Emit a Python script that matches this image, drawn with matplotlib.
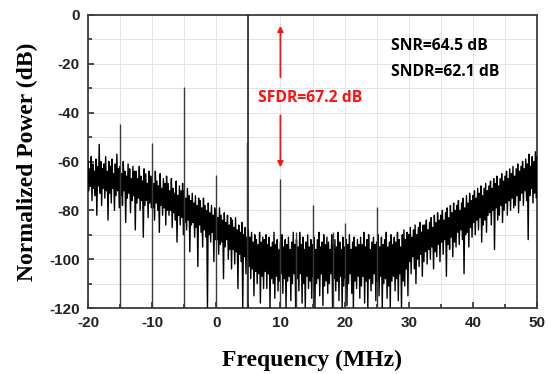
import numpy as np
import matplotlib
matplotlib.use("Agg")
import matplotlib.pyplot as plt
from matplotlib.ticker import MultipleLocator

plt.rcParams['axes.unicode_minus'] = False

# ---- data ----
# noise spectrum: local maxima every 0.25 MHz from -20 MHz, local minima 0.125 MHz later
noise_start = -20.0
noise_step = 0.25
noise_peak = [
    -60, -63, -58, -61, -64, -59, -62, -53, -60, -63,
    -61, -58, -64, -60, -62, -59, -65, -61, -57, -63,
    -62, -65, -60, -64, -66, -61, -63, -67, -62, -64,
    -64, -67, -62, -66, -68, -63, -65, -69, -64, -66,
    -66, -69, -64, -68, -70, -65, -71, -67, -69, -66,
    -69, -72, -67, -71, -73, -68, -74, -70, -72, -69,
    -72, -75, -71, -74, -76, -73, -77, -74, -78, -75,
    -76, -79, -75, -78, -80, -77, -81, -78, -82, -79,
    -80, -83, -79, -82, -84, -81, -85, -82, -86, -83,
    -84, -87, -83, -88, -86, -89, -85, -90, -87, -91,
    -88, -91, -89, -93, -90, -92, -94, -89, -93, -91,
    -92, -90, -94, -91, -95, -93, -89, -94, -92, -96,
    -93, -90, -95, -92, -94, -91, -96, -93, -89, -94,
    -92, -95, -89, -94, -91, -96, -93, -90, -95, -92,
    -94, -91, -96, -92, -89, -95, -93, -90, -94, -91,
    -93, -96, -90, -94, -92, -95, -89, -93, -96, -91,
    -95, -92, -94, -90, -96, -93, -91, -95, -92, -94,
    -91, -94, -89, -95, -92, -90, -96, -93, -91, -94,
    -93, -90, -95, -91, -94, -92, -89, -95, -93, -90,
    -94, -91, -93, -89, -92, -95, -90, -88, -92, -89,
    -90, -87, -91, -88, -86, -90, -87, -85, -89, -86,
    -86, -84, -88, -85, -83, -87, -82, -85, -81, -84,
    -82, -80, -84, -81, -79, -83, -78, -81, -77, -80,
    -78, -76, -80, -77, -75, -79, -74, -77, -73, -76,
    -74, -72, -75, -71, -73, -70, -74, -71, -69, -72,
    -70, -68, -71, -67, -69, -66, -70, -67, -65, -68,
    -66, -64, -67, -63, -65, -62, -66, -63, -61, -64,
    -62, -60, -63, -59, -61, -57, -62, -58, -60, -56,
    -58]
noise_trough = [
    -72, -70, -76, -71, -74, -82, -70, -73, -78, -71,
    -75, -72, -84, -73, -77, -71, -80, -74, -72, -79,
    -74, -78, -72, -85, -75, -73, -81, -76, -74, -88,
    -77, -75, -80, -76, -91, -78, -76, -83, -77, -79,
    -79, -84, -77, -80, -89, -78, -82, -79, -86, -80,
    -82, -80, -87, -81, -84, -93, -82, -86, -83, -90,
    -85, -88, -84, -97, -86, -85, -91, -87, -103, -86,
    -89, -95, -88, -91, -120, -90, -93, -89, -101, -92,
    -92, -98, -94, -93, -108, -95, -92, -100, -96, -104,
    -96, -102, -97, -112, -98, -101, -120, -99, -106, -100,
    -103, -108, -104, -115, -105, -110, -106, -118, -107, -112,
    -105, -112, -106, -120, -108, -110, -116, -107, -113, -109,
    -106, -114, -108, -120, -109, -107, -117, -110, -106, -120,
    -108, -113, -106, -118, -110, -120, -107, -112, -109, -116,
    -107, -120, -110, -108, -115, -106, -119, -111, -109, -114,
    -110, -106, -120, -108, -113, -109, -117, -107, -120, -111,
    -108, -119, -110, -106, -114, -120, -109, -112, -107, -116,
    -111, -107, -118, -109, -120, -108, -113, -110, -106, -117,
    -109, -115, -107, -120, -110, -108, -116, -111, -120, -109,
    -107, -113, -108, -117, -106, -120, -109, -111, -104, -115,
    -101, -106, -99, -104, -110, -100, -103, -98, -107, -101,
    -97, -102, -96, -100, -95, -104, -97, -99, -94, -101,
    -93, -98, -92, -107, -94, -96, -91, -99, -93, -95,
    -89, -94, -88, -92, -106, -90, -89, -95, -87, -91,
    -85, -90, -84, -88, -83, -93, -86, -84, -89, -82,
    -81, -86, -80, -96, -79, -84, -82, -78, -85, -80,
    -77, -82, -76, -80, -75, -79, -78, -74, -81, -76,
    -73, -78, -72, -76, -92, -74, -71, -77, -73, -75,
    -70]

# tone and spurs (MHz, dB)
tone_freq = 5.0
tone_db = 0.0
tone_skirt_db = -52
spur_freq = [-15, -10, -5, 0, 10, 12.5, 15, 18.2, 20, 25]
spur_db = [-44.6, -52.5, -29.6, -65.5, -67.2, -89, -78, -89, -85, -78.7]

sfdr_text = "SFDR=67.2 dB"
snr_text = "SNR=64.5 dB"
sndr_text = "SNDR=62.1 dB"

x_ticks = [-20, -10, 0, 10, 20, 30, 40, 50]
y_ticks = [0, -20, -40, -60, -80, -100, -120]

# ---- figure ----
fig = plt.figure(figsize=(5.53, 3.74), dpi=100)
ax = fig.add_axes([88/553, 1-308/374, (537-88)/553, (308-15)/374])

ax.set_xlim(-20, 50)
ax.set_ylim(-120, 0)

ax.xaxis.set_minor_locator(MultipleLocator(5))
ax.yaxis.set_minor_locator(MultipleLocator(10))
ax.set_xticks(x_ticks)
ax.set_yticks(y_ticks)
ax.grid(True, which='both', color='#e4e4e4', lw=0.7, zorder=0)
ax.set_axisbelow(True)

# noise spectrum: alternate maxima and minima
n = len(noise_peak)
fp = noise_start + noise_step*np.arange(n)
ft = fp + noise_step/2
xs = np.column_stack([fp, ft]).ravel()
ys = np.column_stack([noise_peak, noise_trough]).ravel()
ax.plot(xs, ys, color='black', lw=1.0, zorder=3)

# spurs
ax.vlines(spur_freq, -120, spur_db, color='#3a3a3a', lw=1.0, zorder=4)
ax.vlines([tone_freq], -120, [tone_db], color='#111111', lw=1.1, zorder=5)
ax.vlines([tone_freq - 0.15], -120, [tone_skirt_db], color='#333333', lw=1.0, zorder=5)

# SFDR arrows
sfdr_x = spur_freq[4]
ax.annotate('', xy=(sfdr_x, -3.3), xytext=(sfdr_x, -26.6),
            arrowprops=dict(arrowstyle='-|>', color='#ff1010', lw=1.3,
                            mutation_scale=8), zorder=6)
ax.annotate('', xy=(sfdr_x, -63.5), xytext=(sfdr_x, -40),
            arrowprops=dict(arrowstyle='-|>', color='#ff1010', lw=1.3,
                            mutation_scale=8), zorder=6)
ax.text(6.5, -34, sfdr_text, color='#ff1010', fontsize=11.3, fontweight='bold',
        family='Open Sans', ha='left', va='center', zorder=7)
ax.text(27.2, -12.6, snr_text, color='black', fontsize=11.3, fontweight='bold',
        family='Open Sans', ha='left', va='center', zorder=7)
ax.text(27.2, -23.2, sndr_text, color='black', fontsize=11.3, fontweight='bold',
        family='Open Sans', ha='left', va='center', zorder=7)

# axes styling
for s in ax.spines.values():
    s.set_color('#3c3c3c')
    s.set_linewidth(1.3)
ax.tick_params(which='major', direction='in', length=4, width=1.3, color='#3c3c3c',
               pad=6)
ax.tick_params(which='minor', direction='in', length=3, width=1.3, color='#3c3c3c')
ax.tick_params(axis='x', which='both', top=False)
ax.tick_params(axis='y', which='both', right=False)
for lab in ax.get_xticklabels() + ax.get_yticklabels():
    lab.set_family('Liberation Sans')
    lab.set_fontweight('bold')
    lab.set_fontsize(11)
    lab.set_color('#222222')

ax.set_xlabel('Frequency (MHz)', family='Liberation Serif', fontweight='bold',
              fontsize=17, labelpad=14)
ax.set_ylabel('Normalized Power (dB)', family='Liberation Serif', fontweight='bold',
              fontsize=17, labelpad=8)

fig.savefig('out.png', dpi=100)
